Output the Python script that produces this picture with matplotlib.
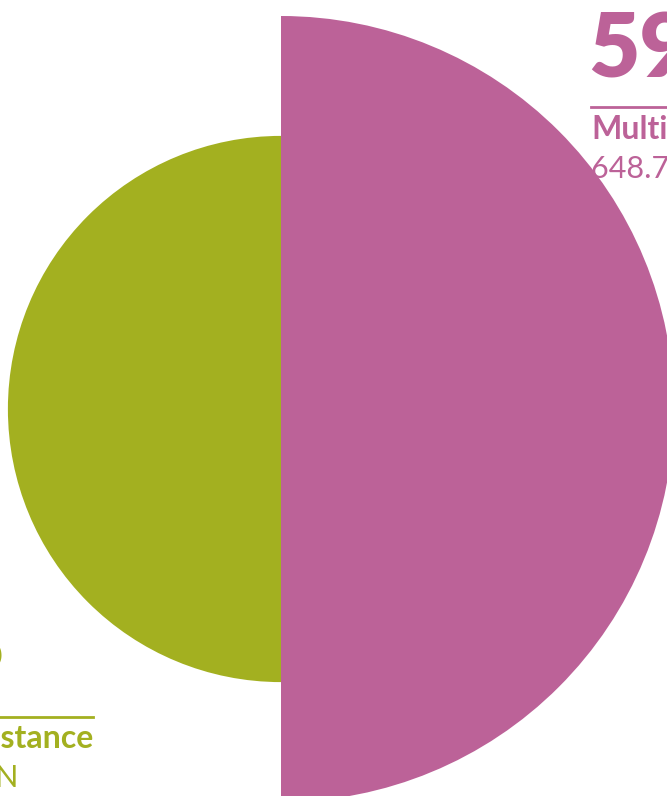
import matplotlib.pyplot as plt
from matplotlib.patches import Wedge

# shares of the total, in percent
categories = ["Multilateral", "Bilateral assistance"]
shares = [59, 41]
amounts = ["648.7 MN", "450.8 MN"]
colors = ["#bc6298", "#a3b020"]

W, H = 667, 796
fig = plt.figure(figsize=(W / 100, H / 100), dpi=100)
ax = fig.add_axes([0, 0, 1, 1])
ax.set_xlim(0, W)
ax.set_ylim(H, 0)
ax.axis("off")

cx, cy = 281, 409
scale = 393 / 59  # radius per percent

# right half: multilateral, left half: bilateral
ax.add_patch(Wedge((cx, cy), shares[0] * scale, -90, 90, color=colors[0], lw=0))
ax.add_patch(Wedge((cx, cy), shares[1] * scale, 90, 270, color=colors[1], lw=0))

font = ["Lato", "DejaVu Sans"]

# pink label block (top right, runs off the edge like the source crop)
ax.text(588, 77, f"{shares[0]}%", color=colors[0], fontsize=64, fontweight="heavy",
        family=font, va="baseline", ha="left", zorder=0)
ax.plot([591, 700], [107, 107], color=colors[0], lw=2, zorder=0)
ax.text(591, 139, categories[0], color=colors[0], fontsize=23, fontweight="bold",
        family=font, va="baseline", ha="left", zorder=0)
ax.text(591, 178, amounts[0], color=colors[0], fontsize=22, fontweight="normal",
        family=font, va="baseline", ha="left", zorder=0)

# green label block (bottom left)
ax.text(5, 671, f"{shares[1]}%", color=colors[1], fontsize=64, fontweight="heavy",
        family=font, va="baseline", ha="right", zorder=0)
ax.plot([-200, 93], [717, 717], color=colors[1], lw=2, zorder=0)
ax.text(93, 748, categories[1], color=colors[1], fontsize=23, fontweight="bold",
        family=font, va="baseline", ha="right", zorder=0)
ax.text(18, 787, amounts[1], color=colors[1], fontsize=22, fontweight="normal",
        family=font, va="baseline", ha="right", zorder=0)

fig.savefig("out.png", dpi=100)
